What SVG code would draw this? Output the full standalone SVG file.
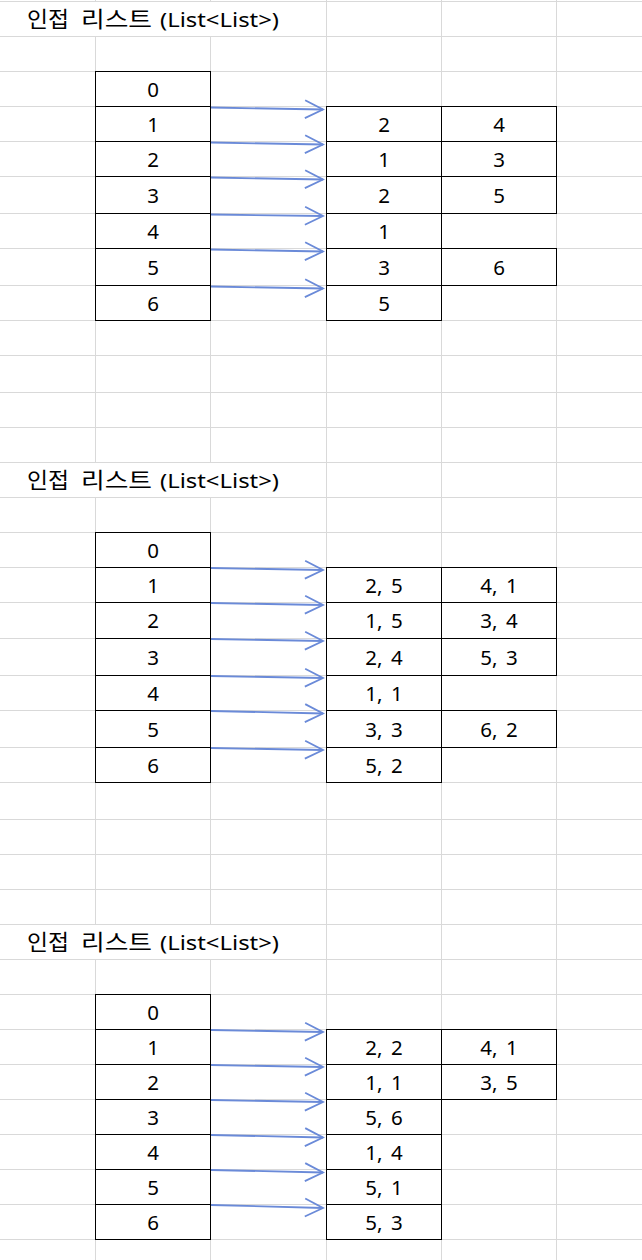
<svg xmlns="http://www.w3.org/2000/svg" width="642" height="1260" viewBox="0 0 642 1260">
<style>
.grid line{stroke:#d9d9d9;stroke-width:1}
.cell rect{fill:none;stroke:#000;stroke-width:1}
.cell text{font-family:"Noto Sans","Noto Sans CJK KR",sans-serif;font-size:20.5px;fill:#000;text-anchor:middle;word-spacing:3px}
.title{font-family:"Noto Sans","Noto Sans CJK KR",sans-serif;font-size:20px;fill:#000}
.ko{font-family:"Noto Sans CJK KR",sans-serif;font-size:22px}
.arr line{stroke:#6a8ad8;stroke-width:1.8;marker-end:url(#ah)}
</style>
<defs>
<marker id="ah" markerUnits="userSpaceOnUse" markerWidth="22" markerHeight="22" refX="18" refY="9.5" orient="auto" overflow="visible">
<path d="M0,0.5 L18,9.5 L0,18.5" fill="none" stroke="#6a8ad8" stroke-width="1.8"/>
</marker>
</defs>
<rect width="642" height="1260" fill="#fff"/>
<g class="grid">
<line x1="0" y1="1.5" x2="642" y2="1.5"/><line x1="0" y1="36.5" x2="642" y2="36.5"/><line x1="0" y1="71.5" x2="642" y2="71.5"/><line x1="0" y1="106.5" x2="642" y2="106.5"/><line x1="0" y1="141.5" x2="642" y2="141.5"/><line x1="0" y1="176.5" x2="642" y2="176.5"/><line x1="0" y1="213.5" x2="642" y2="213.5"/><line x1="0" y1="248.5" x2="642" y2="248.5"/><line x1="0" y1="285.5" x2="642" y2="285.5"/><line x1="0" y1="320.5" x2="642" y2="320.5"/><line x1="0" y1="355.5" x2="642" y2="355.5"/><line x1="0" y1="392.5" x2="642" y2="392.5"/><line x1="0" y1="427.5" x2="642" y2="427.5"/><line x1="0" y1="462.5" x2="642" y2="462.5"/><line x1="0" y1="497.5" x2="642" y2="497.5"/><line x1="0" y1="532.5" x2="642" y2="532.5"/><line x1="0" y1="567.5" x2="642" y2="567.5"/><line x1="0" y1="602.5" x2="642" y2="602.5"/><line x1="0" y1="638.5" x2="642" y2="638.5"/><line x1="0" y1="675.5" x2="642" y2="675.5"/><line x1="0" y1="710.5" x2="642" y2="710.5"/><line x1="0" y1="747.5" x2="642" y2="747.5"/><line x1="0" y1="782.5" x2="642" y2="782.5"/><line x1="0" y1="819.5" x2="642" y2="819.5"/><line x1="0" y1="854.5" x2="642" y2="854.5"/><line x1="0" y1="889.5" x2="642" y2="889.5"/><line x1="0" y1="924.5" x2="642" y2="924.5"/><line x1="0" y1="959.5" x2="642" y2="959.5"/><line x1="0" y1="994.5" x2="642" y2="994.5"/><line x1="0" y1="1029.5" x2="642" y2="1029.5"/><line x1="0" y1="1064.5" x2="642" y2="1064.5"/><line x1="0" y1="1099.5" x2="642" y2="1099.5"/><line x1="0" y1="1134.5" x2="642" y2="1134.5"/><line x1="0" y1="1169.5" x2="642" y2="1169.5"/><line x1="0" y1="1204.5" x2="642" y2="1204.5"/><line x1="0" y1="1239.5" x2="642" y2="1239.5"/>
<line x1="95.5" y1="0" x2="95.5" y2="1"/><line x1="95.5" y1="36" x2="95.5" y2="462"/><line x1="95.5" y1="497" x2="95.5" y2="924"/><line x1="95.5" y1="959" x2="95.5" y2="1260"/>
<line x1="210.5" y1="0" x2="210.5" y2="1"/><line x1="210.5" y1="36" x2="210.5" y2="462"/><line x1="210.5" y1="497" x2="210.5" y2="924"/><line x1="210.5" y1="959" x2="210.5" y2="1260"/>
<line x1="326.5" y1="0" x2="326.5" y2="1260"/><line x1="441.5" y1="0" x2="441.5" y2="1260"/><line x1="556.5" y1="0" x2="556.5" y2="1260"/>
</g>
<g id="title1"><text class="title" y="27"><tspan class="ko" x="27" textLength="42" lengthAdjust="spacingAndGlyphs">인접</tspan><tspan class="ko" x="81" textLength="71" lengthAdjust="spacingAndGlyphs">리스트</tspan><tspan x="160" textLength="119" lengthAdjust="spacingAndGlyphs">(List&lt;List&gt;)</tspan></text></g>
<g id="title2"><text class="title" y="488"><tspan class="ko" x="27" textLength="42" lengthAdjust="spacingAndGlyphs">인접</tspan><tspan class="ko" x="81" textLength="71" lengthAdjust="spacingAndGlyphs">리스트</tspan><tspan x="160" textLength="119" lengthAdjust="spacingAndGlyphs">(List&lt;List&gt;)</tspan></text></g>
<g id="title3"><text class="title" y="950"><tspan class="ko" x="27" textLength="42" lengthAdjust="spacingAndGlyphs">인접</tspan><tspan class="ko" x="81" textLength="71" lengthAdjust="spacingAndGlyphs">리스트</tspan><tspan x="160" textLength="119" lengthAdjust="spacingAndGlyphs">(List&lt;List&gt;)</tspan></text></g>

<!-- Block 1 -->
<g id="b1-idx" class="cell">
<rect x="95.5" y="71.5" width="115" height="35"/><text x="153" y="96.5">0</text>
<rect x="95.5" y="106.5" width="115" height="35"/><text x="153" y="131.5">1</text>
<rect x="95.5" y="141.5" width="115" height="35"/><text x="153" y="166.5">2</text>
<rect x="95.5" y="176.5" width="115" height="37"/><text x="153" y="202.5">3</text>
<rect x="95.5" y="213.5" width="115" height="35"/><text x="153" y="238.5">4</text>
<rect x="95.5" y="248.5" width="115" height="37"/><text x="153" y="274.5">5</text>
<rect x="95.5" y="285.5" width="115" height="35"/><text x="153" y="310.5">6</text>
</g>
<g id="b1-list" class="cell">
<rect x="326.5" y="106.5" width="115" height="35"/><text x="384" y="131.5">2</text>
<rect x="441.5" y="106.5" width="115" height="35"/><text x="499" y="131.5">4</text>
<rect x="326.5" y="141.5" width="115" height="35"/><text x="384" y="166.5">1</text>
<rect x="441.5" y="141.5" width="115" height="35"/><text x="499" y="166.5">3</text>
<rect x="326.5" y="176.5" width="115" height="37"/><text x="384" y="202.5">2</text>
<rect x="441.5" y="176.5" width="115" height="37"/><text x="499" y="202.5">5</text>
<rect x="326.5" y="213.5" width="115" height="35"/><text x="384" y="238.5">1</text>
<rect x="326.5" y="248.5" width="115" height="37"/><text x="384" y="274.5">3</text>
<rect x="441.5" y="248.5" width="115" height="37"/><text x="499" y="274.5">6</text>
<rect x="326.5" y="285.5" width="115" height="35"/><text x="384" y="310.5">5</text>
</g>

<!-- Block 2 -->
<g id="b2-idx" class="cell">
<rect x="95.5" y="532.5" width="115" height="35"/><text x="153" y="557.5">0</text>
<rect x="95.5" y="567.5" width="115" height="35"/><text x="153" y="592.5">1</text>
<rect x="95.5" y="602.5" width="115" height="36"/><text x="153" y="628">2</text>
<rect x="95.5" y="638.5" width="115" height="37"/><text x="153" y="664.5">3</text>
<rect x="95.5" y="675.5" width="115" height="35"/><text x="153" y="700.5">4</text>
<rect x="95.5" y="710.5" width="115" height="37"/><text x="153" y="736.5">5</text>
<rect x="95.5" y="747.5" width="115" height="35"/><text x="153" y="772.5">6</text>
</g>
<g id="b2-list" class="cell">
<rect x="326.5" y="567.5" width="115" height="35"/><text x="384" y="592.5">2, 5</text>
<rect x="441.5" y="567.5" width="115" height="35"/><text x="499" y="592.5">4, 1</text>
<rect x="326.5" y="602.5" width="115" height="36"/><text x="384" y="628">1, 5</text>
<rect x="441.5" y="602.5" width="115" height="36"/><text x="499" y="628">3, 4</text>
<rect x="326.5" y="638.5" width="115" height="37"/><text x="384" y="664.5">2, 4</text>
<rect x="441.5" y="638.5" width="115" height="37"/><text x="499" y="664.5">5, 3</text>
<rect x="326.5" y="675.5" width="115" height="35"/><text x="384" y="700.5">1, 1</text>
<rect x="326.5" y="710.5" width="115" height="37"/><text x="384" y="736.5">3, 3</text>
<rect x="441.5" y="710.5" width="115" height="37"/><text x="499" y="736.5">6, 2</text>
<rect x="326.5" y="747.5" width="115" height="35"/><text x="384" y="772.5">5, 2</text>
</g>

<!-- Block 3 -->
<g id="b3-idx" class="cell">
<rect x="95.5" y="994.5" width="115" height="35"/><text x="153" y="1019.5">0</text>
<rect x="95.5" y="1029.5" width="115" height="35"/><text x="153" y="1054.5">1</text>
<rect x="95.5" y="1064.5" width="115" height="35"/><text x="153" y="1089.5">2</text>
<rect x="95.5" y="1099.5" width="115" height="35"/><text x="153" y="1124.5">3</text>
<rect x="95.5" y="1134.5" width="115" height="35"/><text x="153" y="1159.5">4</text>
<rect x="95.5" y="1169.5" width="115" height="35"/><text x="153" y="1194.5">5</text>
<rect x="95.5" y="1204.5" width="115" height="35"/><text x="153" y="1229.5">6</text>
</g>
<g id="b3-list" class="cell">
<rect x="326.5" y="1029.5" width="115" height="35"/><text x="384" y="1054.5">2, 2</text>
<rect x="441.5" y="1029.5" width="115" height="35"/><text x="499" y="1054.5">4, 1</text>
<rect x="326.5" y="1064.5" width="115" height="35"/><text x="384" y="1089.5">1, 1</text>
<rect x="441.5" y="1064.5" width="115" height="35"/><text x="499" y="1089.5">3, 5</text>
<rect x="326.5" y="1099.5" width="115" height="35"/><text x="384" y="1124.5">5, 6</text>
<rect x="326.5" y="1134.5" width="115" height="35"/><text x="384" y="1159.5">1, 4</text>
<rect x="326.5" y="1169.5" width="115" height="35"/><text x="384" y="1194.5">5, 1</text>
<rect x="326.5" y="1204.5" width="115" height="35"/><text x="384" y="1229.5">5, 3</text>
</g>

<g id="connectors" class="arr">
<line x1="211" y1="107.5" x2="323" y2="109.5"/>
<line x1="211" y1="142.5" x2="323" y2="144.5"/>
<line x1="211" y1="177.5" x2="323" y2="179.5"/>
<line x1="211" y1="214.5" x2="323" y2="216"/>
<line x1="211" y1="249.5" x2="323" y2="251.5"/>
<line x1="211" y1="286.5" x2="323" y2="288.5"/>
<line x1="211" y1="568" x2="323" y2="570"/>
<line x1="211" y1="603" x2="323" y2="605"/>
<line x1="211" y1="639" x2="323" y2="641"/>
<line x1="211" y1="676" x2="323" y2="678"/>
<line x1="211" y1="711" x2="323" y2="713.5"/>
<line x1="211" y1="748" x2="323" y2="750"/>
<line x1="211" y1="1030" x2="323" y2="1032"/>
<line x1="211" y1="1065" x2="323" y2="1067"/>
<line x1="211" y1="1100" x2="323" y2="1102"/>
<line x1="211" y1="1135" x2="323" y2="1137.5"/>
<line x1="211" y1="1170" x2="323" y2="1172.5"/>
<line x1="211" y1="1205" x2="323" y2="1208"/>
</g>
</svg>
